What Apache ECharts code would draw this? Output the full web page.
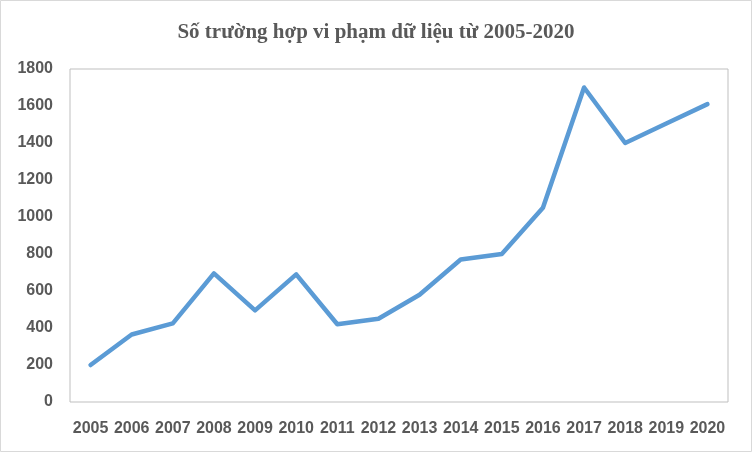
<!DOCTYPE html>
<html>
<head>
<meta charset="utf-8">
<script src="https://cdn.jsdelivr.net/npm/echarts@6/dist/echarts.min.js"></script>
<style>html,body{margin:0;padding:0;background:#fff}#c{width:752px;height:452px}</style>
</head>
<body>
<div id="c"></div>
<script>
const years = ['2005','2006','2007','2008','2009','2010','2011','2012','2013','2014','2015','2016','2017','2018','2019','2020'];
const breaches = [200, 365, 425, 695, 495, 690, 420, 450, 580, 770, 800, 1050, 1700, 1400, 1505, 1610];
const yTicks = { min: 0, max: 1800, interval: 200 };
const titleText = 'Số trường hợp vi phạm dữ liệu từ 2005-2020';

const chart = echarts.init(document.getElementById('c'), null, { renderer: 'canvas' });
chart.setOption({
  animation: false,
  backgroundColor: '#ffffff',
  title: {
    text: titleText,
    left: 'center',
    top: 17,
    textStyle: { fontFamily: 'Liberation Serif', fontWeight: 'bold', fontSize: 21, color: '#595959' }
  },
  graphic: [{
    type: 'rect',
    shape: { x: 0.5, y: 0.5, width: 751, height: 451 },
    style: { fill: 'none', stroke: '#d9d9d9', lineWidth: 1 },
    silent: true
  }],
  grid: {
    left: 70, right: 24, top: 69, bottom: 50,
    show: true, borderColor: '#bfbfbf', borderWidth: 1
  },
  xAxis: {
    type: 'category',
    data: years,
    boundaryGap: true,
    axisLine: { show: false },
    axisTick: { show: false },
    axisLabel: { interval: 0, margin: 19, color: '#595959', fontFamily: 'Liberation Sans', fontWeight: 'bold', fontSize: 16 }
  },
  yAxis: {
    type: 'value',
    min: yTicks.min, max: yTicks.max, interval: yTicks.interval,
    axisLine: { show: false },
    axisTick: { show: false },
    splitLine: { show: false },
    axisLabel: { margin: 17, color: '#595959', fontFamily: 'Liberation Sans', fontWeight: 'bold', fontSize: 16,
      formatter: v => String(v) }
  },
  series: [{
    type: 'line',
    data: breaches,
    showSymbol: false,
    symbol: 'none',
    lineStyle: { color: '#5b9bd5', width: 4.5, cap: 'round', join: 'round' }
  }]
});
</script>
</body>
</html>
